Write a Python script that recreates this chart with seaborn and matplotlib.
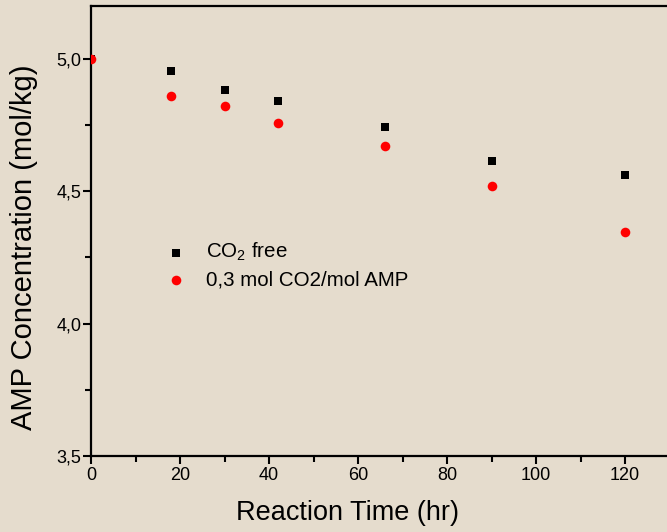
import matplotlib
matplotlib.use("Agg")
import matplotlib.pyplot as plt
from matplotlib.ticker import MultipleLocator, FuncFormatter
import seaborn as sns
import pandas as pd

# Data
time_free = [0, 18, 30, 42, 66, 90, 120]
conc_free = [5.0, 4.955, 4.883, 4.840, 4.743, 4.615, 4.560]
time_co2 = [0, 18, 30, 42, 66, 90, 120]
conc_co2 = [5.0, 4.860, 4.822, 4.758, 4.671, 4.520, 4.346]
label_free = r"CO$_2$ free"
label_co2 = "0,3 mol CO2/mol AMP"

sns.set_style("ticks")
plt.rcParams["font.family"] = ["Liberation Sans", "DejaVu Sans"]
plt.rcParams["mathtext.fontset"] = "custom"
plt.rcParams["mathtext.rm"] = "Liberation Sans"
plt.rcParams["mathtext.it"] = "Liberation Sans"
plt.rcParams["mathtext.default"] = "regular"
plt.rcParams["text.color"] = "black"
plt.rcParams["axes.labelcolor"] = "black"
plt.rcParams["xtick.color"] = "black"
plt.rcParams["ytick.color"] = "black"

bg = "#e5dccd"
fig = plt.figure(figsize=(6.67, 5.32), dpi=100, facecolor=bg)
W, H = 667, 532
ax = fig.add_axes([91 / W, 1 - 456 / H, (667 - 91) / W, (456 - 6) / H])
ax.set_facecolor(bg)

df_free = pd.DataFrame({"t": time_free, "c": conc_free})
df_co2 = pd.DataFrame({"t": time_co2, "c": conc_co2})

sns.scatterplot(data=df_free, x="t", y="c", marker="s", color="black", s=40,
                linewidth=0, label=label_free, ax=ax, zorder=3)
sns.scatterplot(data=df_co2, x="t", y="c", marker="o", color="#ff0000", s=48,
                linewidth=0, label=label_co2, ax=ax, zorder=4)

ax.set_xlim(0, 129.4)
ax.set_ylim(3.5, 5.2)
ax.xaxis.set_major_locator(MultipleLocator(20))
ax.xaxis.set_minor_locator(MultipleLocator(10))
ax.yaxis.set_major_locator(MultipleLocator(0.5))
ax.yaxis.set_minor_locator(MultipleLocator(0.25))
ax.yaxis.set_major_formatter(FuncFormatter(lambda v, p: f"{v:.1f}".replace(".", ",")))

for side in ["left", "bottom", "top"]:
    ax.spines[side].set_linewidth(1.6)
    ax.spines[side].set_color("black")
ax.spines["right"].set_visible(False)

ax.tick_params(which="major", direction="out", length=6, width=1.5, labelsize=13,
               colors="black", pad=2)
ax.tick_params(which="minor", direction="out", length=4, width=1.5)
ax.tick_params(axis="y", pad=1)

ax.set_xlabel("Reaction Time (hr)", fontsize=19.5)
ax.set_ylabel("AMP Concentration (mol/kg)", fontsize=21)
ax.xaxis.set_label_coords(0.446, -0.127)
ax.yaxis.set_label_coords(-0.116, 0.464)
ax.xaxis.label.set_va("center")
ax.yaxis.label.set_va("center")

leg = ax.legend(loc="center left", bbox_to_anchor=(0.1146, 0.424), frameon=False,
                fontsize=14.8, handletextpad=1.0, labelspacing=0.35,
                handlelength=1.0, borderaxespad=0)
for t in leg.get_texts():
    t.set_color("black")

fig.savefig("out.png", dpi=100, facecolor=bg)
